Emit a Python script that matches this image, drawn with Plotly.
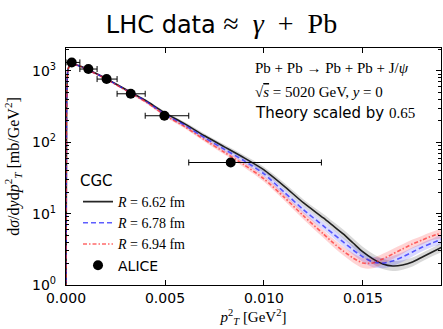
import plotly.graph_objects as go

# ---------------- data ----------------
pt2 = [0, 0.00003, 0.00006, 0.0001, 0.0002, 0.0003, 0.0005, 0.0008, 0.0011, 0.0015,
       0.002, 0.0025, 0.003, 0.0035, 0.004, 0.005, 0.006, 0.007, 0.008, 0.009,
       0.010, 0.011, 0.012, 0.013, 0.0135, 0.014, 0.0145, 0.015, 0.0155, 0.016,
       0.0165, 0.017, 0.0175, 0.018, 0.0185, 0.019]

cgc_662 = [0.5, 300, 750, 1050, 1200, 1278, 1218, 1141, 1036, 925,
           787, 659, 552, 462, 387, 258, 181, 123, 86.2, 60.4,
           41.0, 24.5, 14.1, 8.70, 6.72, 5.19, 3.88, 2.90, 2.32, 1.97,
           1.85, 1.91, 2.10, 2.47, 2.90, 3.41]
cgc_678 = [0.5, 300, 750, 1050, 1200, 1278, 1215, 1135, 1030, 918,
           780, 652, 545, 455, 380, 246, 172.6, 115.3, 79.5, 54.8,
           36.1, 20.2, 11.3, 6.72, 5.19, 4.01, 3.10, 2.47, 2.10, 2.03,
           2.17, 2.47, 2.90, 3.41, 3.88, 4.42]
cgc_694 = [0.5, 300, 750, 1050, 1200, 1278, 1212, 1130, 1024, 910,
           772, 645, 538, 448, 373, 238.4, 164.4, 108.1, 72.2, 48.2,
           30.7, 17.2, 9.28, 5.19, 3.88, 3.00, 2.39, 2.03, 2.03, 2.32,
           2.72, 3.20, 3.76, 4.28, 4.87, 5.36]
# half-width of the uncertainty bands, in decades
band_dec = [0.005, 0.005, 0.005, 0.005, 0.005, 0.005, 0.006, 0.007, 0.008, 0.009,
            0.01, 0.012, 0.014, 0.016, 0.018, 0.02, 0.024, 0.028, 0.032, 0.036,
            0.04, 0.045, 0.05, 0.055, 0.058, 0.062, 0.066, 0.07, 0.072, 0.072,
            0.07, 0.066, 0.062, 0.06, 0.058, 0.056]

alice_x = [0.00029, 0.00113, 0.00205, 0.00327, 0.00497, 0.00832]
alice_y = [1312, 1060, 767, 477, 235, 52]
alice_lo = [0.0, 0.0007, 0.00157, 0.00258, 0.0040, 0.0062]
alice_hi = [0.0007, 0.00157, 0.00258, 0.0040, 0.0062, 0.0129]

x_ticks = [0, 0.005, 0.010, 0.015]
x_ticktext = ["0.000", "0.005", "0.010", "0.015"]
y_ticks = [1, 10, 100, 1000]
y_ticktext = ["10<sup>0</sup>", "10<sup>1</sup>", "10<sup>2</sup>", "10<sup>3</sup>"]
y_minor = [m * 10 ** e for e in range(0, 4) for m in range(2, 10)]

SANS = "DejaVu Sans"
SERIF = "Liberation Serif"

fig = go.Figure()

curves = [
    ("<i>R</i> = 6.62 fm", cgc_662, "rgba(0,0,0,0.85)", "solid", "rgba(0,0,0,0.15)"),
    ("<i>R</i> = 6.78 fm", cgc_678, "rgba(40,40,255,0.75)", "5px,3px", "rgba(0,0,255,0.15)"),
    ("<i>R</i> = 6.94 fm", cgc_694, "rgba(255,40,40,0.7)", "4px,2px,1.5px,2px", "rgba(255,0,0,0.17)"),
]

# bands first
for name, ys, lc, dash, fc in curves:
    up = [y * 10 ** w for y, w in zip(ys, band_dec)]
    lo = [y / 10 ** w for y, w in zip(ys, band_dec)]
    fig.add_trace(go.Scatter(x=pt2 + pt2[::-1], y=up + lo[::-1], fill="toself",
                             fillcolor=fc, line=dict(width=0), mode="lines",
                             showlegend=False, hoverinfo="skip", line_shape="spline"))

for name, ys, lc, dash, fc in curves:
    fig.add_trace(go.Scatter(x=pt2, y=ys, mode="lines", name=name,
                             line=dict(color=lc, width=1.6, dash=dash, shape="spline", smoothing=0.6)))

fig.add_trace(go.Scatter(
    x=alice_x, y=alice_y, mode="markers", name="<span style='font-family:DejaVu Sans'>ALICE</span>",
    marker=dict(color="black", size=10),
    error_x=dict(type="data", symmetric=False,
                 array=[h - x for h, x in zip(alice_hi, alice_x)],
                 arrayminus=[x - l for l, x in zip(alice_lo, alice_x)],
                 color="black", thickness=1, width=3),
))

fig.update_layout(
    width=443, height=329,
    margin=dict(l=66, r=2, t=48, b=44),
    plot_bgcolor="white", paper_bgcolor="white",
    title=dict(
        text="LHC data <span style='font-family:Liberation Serif;font-size:28px'>≈\u2002<i>γ</i>\u2002+\u2002Pb</span>",
        x=0.5, xref="container", xanchor="center",
        y=0.925, yref="container", yanchor="middle",
        font=dict(family=SANS, size=24, color="black")),
    legend=dict(
        title=dict(text="CGC", font=dict(family=SANS, size=15, color="black")),
        x=0.032, y=0.50, xanchor="left", yanchor="top",
        bgcolor="rgba(0,0,0,0)", borderwidth=0,
        font=dict(family=SERIF, size=14, color="black"),
    ),
    xaxis=dict(
        range=[0, 0.01894], tickmode="array", tickvals=x_ticks, ticktext=x_ticktext,
        ticks="inside", ticklen=5, tickcolor="black", mirror="allticks",
        showline=True, linecolor="black", linewidth=1.2, showgrid=False, zeroline=False,
        tickfont=dict(family=SANS, size=14, color="black"),
        title=dict(text="<i>p</i><sup>2</sup><sub><i>T</i></sub> [GeV<sup>2</sup>]",
                   font=dict(family=SERIF, size=15, color="black"), standoff=6),
    ),
    yaxis=dict(
        type="log", range=[0, 3.32], tickmode="array", tickvals=y_ticks, ticktext=y_ticktext,
        ticks="inside", ticklen=5, tickcolor="black", mirror="allticks",
        showline=True, linecolor="black", linewidth=1.2, showgrid=False, zeroline=False,
        tickfont=dict(family=SANS, size=14, color="black"), ticklabelstandoff=6,
        minor=dict(tickmode="array", tickvals=y_minor, ticks="inside", ticklen=2.5,
                   tickcolor="black", showgrid=False),
        title=dict(text="d<i>σ</i>/d<i>y</i>d<i>p</i><sup>2</sup><sub><i>T</i></sub> [mb/GeV<sup>2</sup>]",
                   font=dict(family=SERIF, size=16, color="black"), standoff=8),
    ),
)

ann_x = 0.00944
fig.add_annotation(x=ann_x, xref="x", y=0.9156, yref="paper", xanchor="left", yanchor="middle",
                   text="Pb + Pb → Pb + Pb + J/<i>ψ</i>", showarrow=False,
                   font=dict(family=SERIF, size=15, color="black"))
fig.add_annotation(x=ann_x, xref="x", y=0.8143, yref="paper", xanchor="left", yanchor="middle",
                   text="√<span style='text-decoration:overline'><i>s</i></span> = 5020 GeV, <i>y</i> = 0",
                   showarrow=False, font=dict(family=SERIF, size=15, color="black"))
fig.add_annotation(x=ann_x, xref="x", y=0.7257, yref="paper", xanchor="left", yanchor="middle",
                   text="Theory scaled by <span style='font-family:Liberation Serif'>0.65</span>",
                   showarrow=False, font=dict(family=SANS, size=15, color="black"))

fig.write_html("out.html")
